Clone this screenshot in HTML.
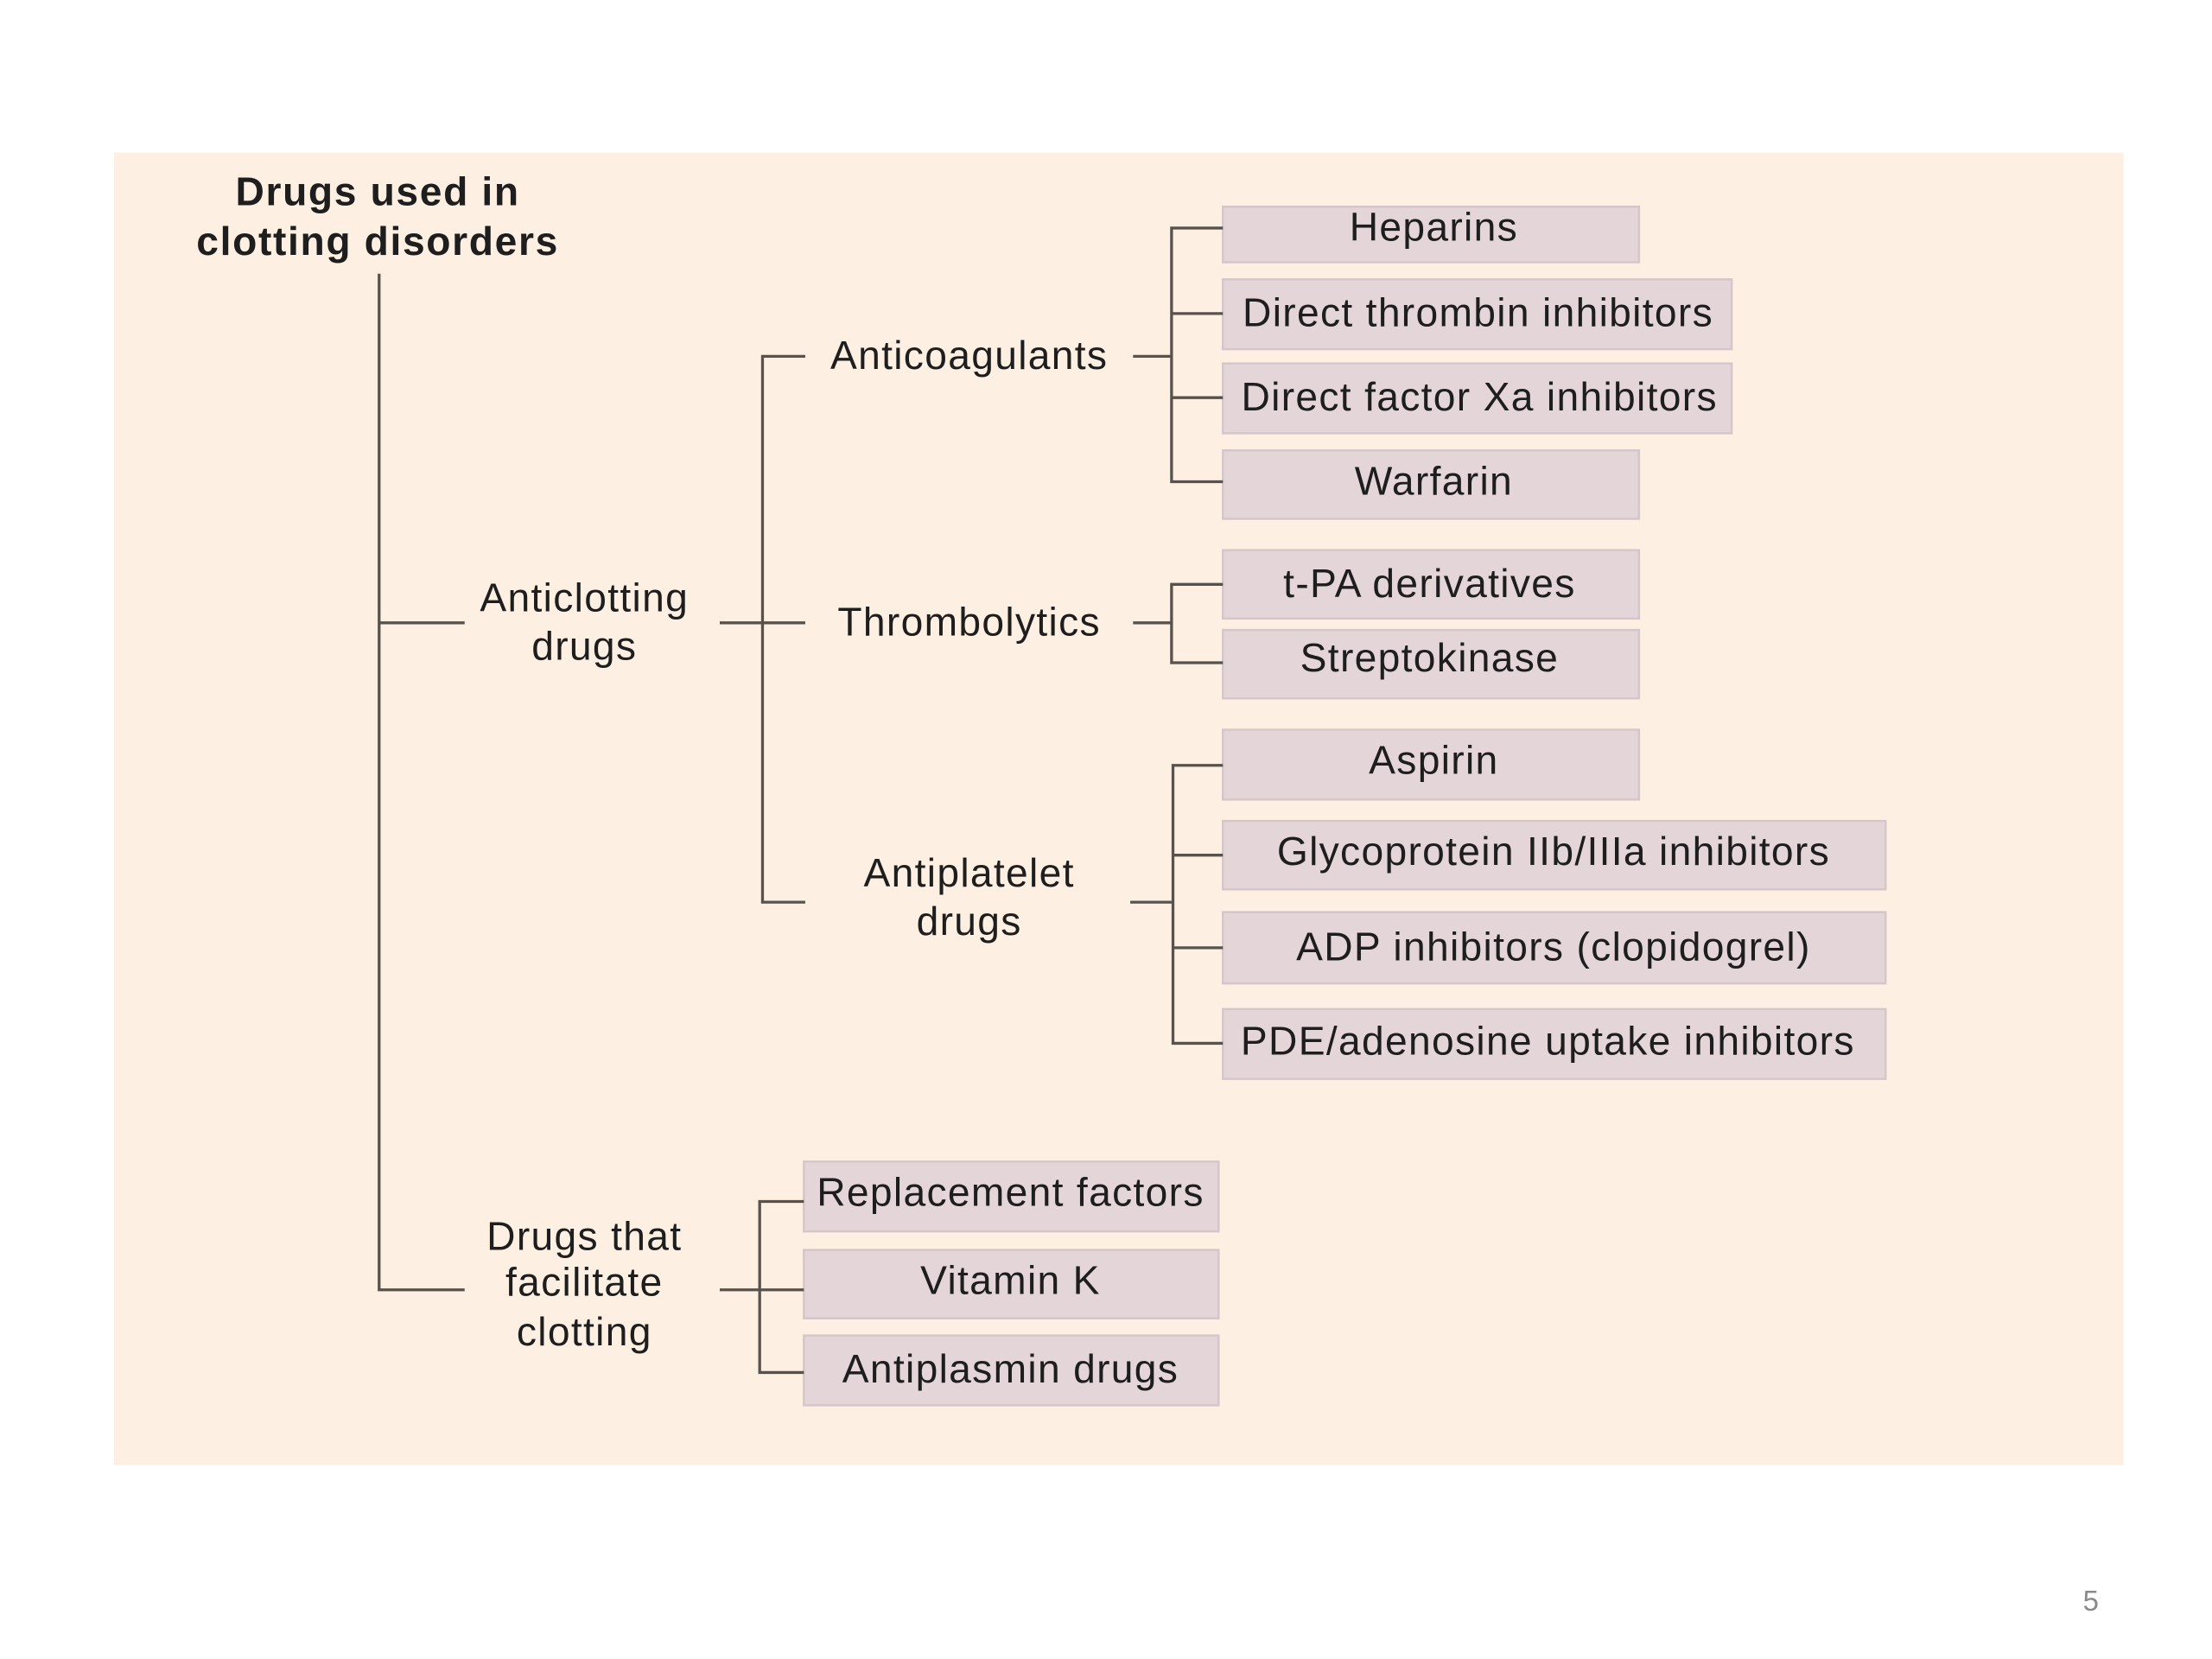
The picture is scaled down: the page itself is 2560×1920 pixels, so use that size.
<!DOCTYPE html>
<html><head><meta charset="utf-8"><style>
html,body{margin:0;padding:0;background:#fff;}
svg{display:block;}
text{font-family:"Liberation Sans",Arial,sans-serif;fill:#1e1e1e;}
</style></head><body>
<svg width="2560" height="1920" viewBox="0 0 1552 1164" preserveAspectRatio="none" xmlns="http://www.w3.org/2000/svg">
<rect x="0" y="0" width="1552" height="1164" fill="#ffffff"/>
<rect x="80" y="107" width="1410" height="921" fill="#fdf0e2"/>
<g fill="#e3d5d8" stroke="#d6c6ca" stroke-width="1.5">
<rect x="858" y="145" width="292" height="39"/>
<rect x="858" y="196" width="357" height="49"/>
<rect x="858" y="255" width="357" height="49"/>
<rect x="858" y="316" width="292" height="48"/>
<rect x="858" y="386" width="292" height="48"/>
<rect x="858" y="442" width="292" height="48"/>
<rect x="858" y="512" width="292" height="49"/>
<rect x="858" y="576" width="465" height="48"/>
<rect x="858" y="640" width="465" height="50"/>
<rect x="858" y="708" width="465" height="49"/>
<rect x="564" y="815" width="291" height="49"/>
<rect x="564" y="877" width="291" height="48"/>
<rect x="564" y="937" width="291" height="49"/>
</g>
<g stroke="#58524c" stroke-width="2" fill="none">
<path d="M266 192 V905 H326"/>
<path d="M266 437 H326"/>
<path d="M505 437 H565"/>
<path d="M565 250 H535 V633 H565"/>
<path d="M795 250 H822"/>
<path d="M858 160 H822 V338 H858"/>
<path d="M822 220 H858 M822 279 H858"/>
<path d="M795 437 H822"/>
<path d="M858 410 H822 V465 H858"/>
<path d="M793 633 H823"/>
<path d="M858 537 H823 V732 H858"/>
<path d="M823 600 H858 M823 665 H858"/>
<path d="M505 905 H564"/>
<path d="M564 843 H533 V963 H564"/>
</g>
<g font-size="28" text-anchor="middle" letter-spacing="0.8">
<text x="265" y="144" font-weight="bold" letter-spacing="1">Drugs used in</text>
<text x="265" y="179" font-weight="bold" letter-spacing="1">clotting disorders</text>
<text x="410" y="429">Anticlotting</text>
<text x="410" y="463">drugs</text>
<text x="410" y="877">Drugs that</text>
<text x="410" y="909">facilitate</text>
<text x="410" y="944">clotting</text>
<text x="680" y="259">Anticoagulants</text>
<text x="680" y="446">Thrombolytics</text>
<text x="680" y="622">Antiplatelet</text>
<text x="680" y="656">drugs</text>
<text x="1006" y="169">Heparins</text>
<text x="1037" y="229">Direct thrombin inhibitors</text>
<text x="1038" y="288">Direct factor Xa inhibitors</text>
<text x="1006" y="347">Warfarin</text>
<text x="1003" y="419">t-PA derivatives</text>
<text x="1003" y="471">Streptokinase</text>
<text x="1006" y="543">Aspirin</text>
<text x="1090" y="607">Glycoprotein IIb/IIIa inhibitors</text>
<text x="1090" y="674">ADP inhibitors (clopidogrel)</text>
<text x="1086" y="740">PDE/adenosine uptake inhibitors</text>
<text x="709" y="846">Replacement factors</text>
<text x="709" y="908">Vitamin K</text>
<text x="709" y="970">Antiplasmin drugs</text>
</g>
<text x="1467" y="1130" font-size="20" text-anchor="middle" style="fill:#8a8a8a">5</text>
</svg>
</body></html>
